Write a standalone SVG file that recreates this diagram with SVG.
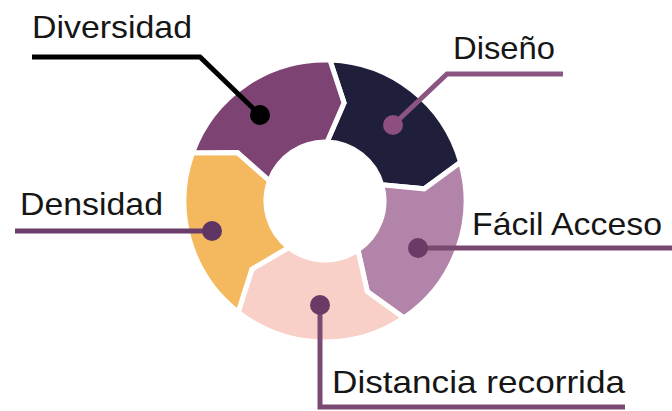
<svg xmlns="http://www.w3.org/2000/svg" width="672" height="411" viewBox="0 0 672 411">
<style>
.seg{stroke:#ffffff;stroke-width:5;stroke-linejoin:miter}
.lbl{font-family:"Liberation Sans","DejaVu Sans",sans-serif;font-size:32px;fill:#161616}
.ln{fill:none;stroke-width:5;stroke-linejoin:miter}
</style>
<rect width="672" height="411" fill="#ffffff"/>
<g id="node-diseno">
<path class="seg" fill="#1f1e3b" d="M 329.92 60.08 A 141 141 0 0 1 460.54 162.14 L 424.25 188.81 L 381.72 184.74 A 59 59 0 0 0 327.06 142.04 L 344.08 102.84 Z"/>
<text class="lbl" x="453" y="59" textLength="102" lengthAdjust="spacingAndGlyphs">Diseño</text>
</g>
<g id="node-facil">
<path class="seg" fill="#b384a9" d="M 460.54 162.14 A 141 141 0 0 1 403.85 317.89 L 367.26 291.63 L 357.99 249.91 A 59 59 0 0 0 381.72 184.74 L 424.25 188.81 Z"/>
<text class="lbl" x="472" y="235" textLength="190" lengthAdjust="spacingAndGlyphs">Fácil Acceso</text>
</g>
<g id="node-distancia">
<path class="seg" fill="#f8d0c8" d="M 403.85 317.89 A 141 141 0 0 1 238.19 312.11 L 251.86 269.20 L 288.67 247.49 A 59 59 0 0 0 357.99 249.91 L 367.26 291.63 Z"/>
<text class="lbl" x="332" y="393" textLength="293" lengthAdjust="spacingAndGlyphs">Distancia recorrida</text>
</g>
<g id="node-densidad">
<path class="seg" fill="#f4b95f" d="M 238.19 312.11 A 141 141 0 0 1 192.50 152.78 L 237.54 152.52 L 269.56 180.82 A 59 59 0 0 0 288.67 247.49 L 251.86 269.20 Z"/>
<text class="lbl" x="20" y="215" textLength="143" lengthAdjust="spacingAndGlyphs">Densidad</text>
</g>
<g id="node-diversidad">
<path class="seg" fill="#7d4473" d="M 192.50 152.78 A 141 141 0 0 1 329.92 60.08 L 344.08 102.84 L 327.06 142.04 A 59 59 0 0 0 269.56 180.82 L 237.54 152.52 Z"/>
<text class="lbl" x="32" y="38" textLength="160" lengthAdjust="spacingAndGlyphs">Diversidad</text>
</g>
<g id="connectors">
<polyline class="ln" stroke="#000000" points="32,57 200,57 260,115"/>
<circle cx="260" cy="115" r="10" fill="#000000"/>
<polyline class="ln" stroke="#8a5580" points="563,74 447,74 393,125"/>
<circle cx="393" cy="125" r="10" fill="#8c4f80"/>
<line class="ln" stroke="#6b3d6b" x1="15" y1="231" x2="212" y2="231"/>
<circle cx="212" cy="231" r="10" fill="#5e3463"/>
<line class="ln" stroke="#7a476f" x1="418" y1="248" x2="672" y2="248"/>
<circle cx="418" cy="248" r="10" fill="#6b3a65"/>
<polyline class="ln" stroke="#7b4a74" points="320,305 320,407 625,407"/>
<circle cx="320" cy="305" r="10" fill="#6b3a65"/>
</g>
</svg>
